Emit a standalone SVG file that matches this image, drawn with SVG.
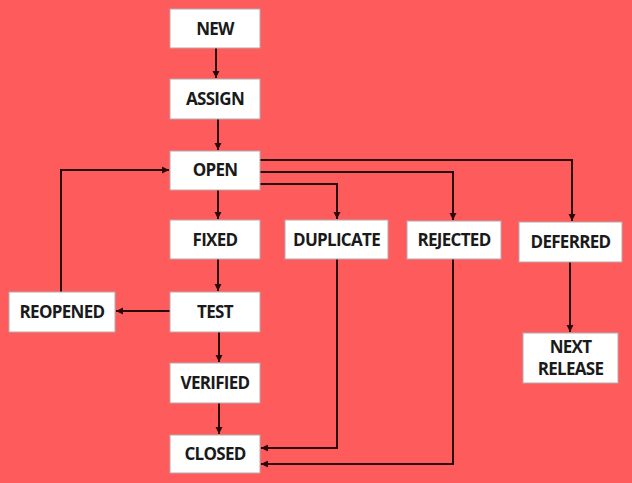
<svg xmlns="http://www.w3.org/2000/svg" width="632" height="483" viewBox="0 0 632 483">
<style>
.box{fill:#ffffff;stroke:#b8a8a8;stroke-width:1}
.t{font-family:"Open Sans","Liberation Sans",sans-serif;font-weight:bold;font-size:17px;fill:#1a1a1a;text-anchor:middle;letter-spacing:-0.7px}
.c{fill:none;stroke:#2a0808;stroke-width:2;marker-end:url(#a)}
</style>
<defs>
<marker id="a" markerWidth="8" markerHeight="8" refX="7" refY="4" orient="auto" markerUnits="userSpaceOnUse">
<path d="M0,0.5 L7,4 L0,7.5 Z" fill="#2a0808"/>
</marker>
</defs>
<rect width="632" height="483" fill="#fe5c5c"/>
<g id="connectors">
<path class="c" d="M216,48 V78"/>
<path class="c" d="M218,119 V150"/>
<path class="c" d="M218,190 V219"/>
<path class="c" d="M218,259 V291"/>
<path class="c" d="M219,332 V362"/>
<path class="c" d="M219,403 V434"/>
<path class="c" d="M170,311 H116"/>
<path class="c" d="M61,292 V170 H169"/>
<path class="c" d="M260,160 H572 V221"/>
<path class="c" d="M260,172 H453 V220"/>
<path class="c" d="M260,184 H337 V219"/>
<path class="c" d="M337,259 V448 H261"/>
<path class="c" d="M453,259 V464 H261"/>
<path class="c" d="M570,262 V332"/>
</g>
<g id="new"><rect class="box" x="170" y="9" width="90" height="39"/><text class="t" x="215" y="35">NEW</text></g>
<g id="assign"><rect class="box" x="170" y="79" width="90" height="40"/><text class="t" x="215" y="105">ASSIGN</text></g>
<g id="open"><rect class="box" x="170" y="151" width="90" height="39"/><text class="t" x="215" y="176">OPEN</text></g>
<g id="fixed"><rect class="box" x="170" y="220" width="90" height="39"/><text class="t" x="215" y="246">FIXED</text></g>
<g id="duplicate"><rect class="box" x="285" y="220" width="103" height="39"/><text class="t" x="336.5" y="246">DUPLICATE</text></g>
<g id="rejected"><rect class="box" x="407" y="221" width="94" height="38"/><text class="t" x="454" y="246">REJECTED</text></g>
<g id="deferred"><rect class="box" x="519" y="222" width="103" height="40"/><text class="t" x="570.5" y="248">DEFERRED</text></g>
<g id="reopened"><rect class="box" x="9" y="292" width="106" height="40"/><text class="t" x="62" y="318">REOPENED</text></g>
<g id="test"><rect class="box" x="170" y="292" width="90" height="40"/><text class="t" x="215" y="318">TEST</text></g>
<g id="next-release"><rect class="box" x="523" y="333" width="95" height="50"/><text class="t" x="570.5" y="353">NEXT</text><text class="t" x="570.5" y="375">RELEASE</text></g>
<g id="verified"><rect class="box" x="170" y="363" width="90" height="40"/><text class="t" x="215" y="389">VERIFIED</text></g>
<g id="closed"><rect class="box" x="170" y="435" width="90" height="38"/><text class="t" x="215" y="460">CLOSED</text></g>
</svg>
